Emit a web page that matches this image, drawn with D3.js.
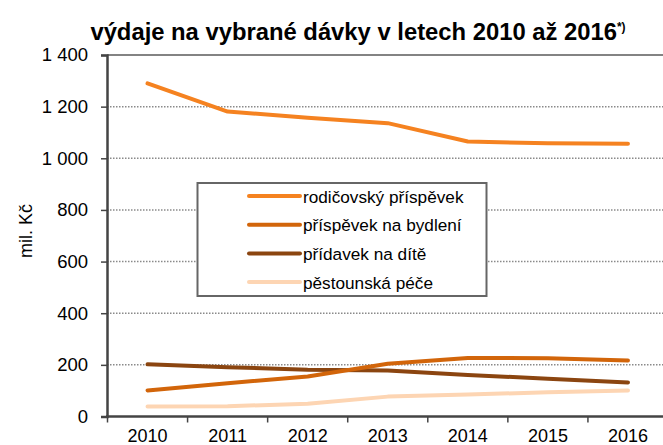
<!DOCTYPE html>
<html><head><meta charset="utf-8">
<script src="https://cdn.jsdelivr.net/npm/d3@7"></script>
<style>body{margin:0;background:#fff;} svg{display:block;font-family:"Liberation Sans",Arial,sans-serif;}</style>
</head><body>
<svg id="c" width="663" height="445"></svg>
<script>
const years = ["2010","2011","2012","2013","2014","2015","2016"];
const rodicovsky = [1290, 1181, 1157, 1136, 1065, 1058, 1056];
const bydleni = [101, 129, 155, 204, 227, 226, 217];
const pridavek = [202, 191, 181, 178, 161, 146, 132];
const pestounska = [39, 40, 49, 77, 85, 94, 101];
const seriesNames = ["rodičovský příspěvek","příspěvek na bydlení","přídavek na dítě","pěstounská péče"];
const seriesColors = ["#F58220","#D2650A","#8B4510","#FDD5B3"];
const yTicks = [0,200,400,600,800,1000,1200,1400];
const yTickLabels = ["0","200","400","600","800","1 000","1 200","1 400"];

const svg = d3.select("#c");
const x = d3.scaleBand().domain(years).range([107.5, 668]);
const y = d3.scaleLinear().domain([0,1400]).range([416.5, 55]);

// gridlines
svg.append("g").selectAll("line").data(yTicks.filter(d=>d>0 && d<1400)).join("line")
  .attr("x1",107).attr("x2",663).attr("y1",d=>y(d)).attr("y2",d=>y(d))
  .attr("stroke","#8a8a8a").attr("stroke-width",1.5).attr("stroke-dasharray","1.5,1.5");
// top border
svg.append("line").attr("x1",107).attr("x2",663).attr("y1",y(1400)).attr("y2",y(1400))
  .attr("stroke","#5a5a5a").attr("stroke-width",1.5);

// y axis
const yAxis = d3.axisLeft(y).tickValues(yTicks).tickFormat((d,i)=>yTickLabels[i]).tickSize(6).tickPadding(13);
const gy = svg.append("g").attr("transform","translate(107,0)").call(yAxis);
gy.select(".domain").attr("stroke","#444").attr("stroke-width",2.5);
gy.selectAll(".tick line").attr("stroke","#444").attr("stroke-width",1.5);
gy.selectAll(".tick text").attr("font-size",18.5).attr("fill","#000").attr("font-family","Liberation Sans, Arial, sans-serif");

// x axis
const xAxis = d3.axisBottom(x).tickSize(0).tickPadding(13);
const gx = svg.append("g").attr("transform","translate(0,"+y(0)+")").call(xAxis);
gx.select(".domain").remove();
gx.selectAll(".tick text").attr("font-size",18).attr("fill","#000").attr("font-family","Liberation Sans, Arial, sans-serif");
svg.append("line").attr("x1",106).attr("x2",663).attr("y1",y(0)).attr("y2",y(0))
  .attr("stroke","#444").attr("stroke-width",2.5);
svg.append("g").selectAll("line").data(years).join("line")
  .attr("x1",d=>x(d)).attr("x2",d=>x(d)).attr("y1",y(0)).attr("y2",y(0)+6)
  .attr("stroke","#444").attr("stroke-width",1.5);

// lines
const allSeries = [rodicovsky, bydleni, pridavek, pestounska];
const line = d3.line().x((d,i)=>x(years[i])+x.bandwidth()/2).y(d=>y(d));
[3,2,1,0].forEach(k=>{
  svg.append("path").attr("d",line(allSeries[k])).attr("fill","none")
    .attr("stroke",seriesColors[k]).attr("stroke-width",4)
    .attr("stroke-linecap","round").attr("stroke-linejoin","round");
});

// legend
const lg = svg.append("g");
lg.append("rect").attr("x",197.5).attr("y",183).attr("width",289).attr("height",113)
  .attr("fill","#fff").attr("stroke","#666").attr("stroke-width",2);
seriesNames.forEach((n,i)=>{
  const yy = 196 + i*28.7;
  lg.append("line").attr("x1",249).attr("x2",300).attr("y1",yy).attr("y2",yy)
    .attr("stroke",seriesColors[i]).attr("stroke-width",4).attr("stroke-linecap","round");
  lg.append("text").attr("x",303).attr("y",yy+6.5).attr("font-size",17.2)
    .attr("fill","#000").text(n);
});

// title
const t = svg.append("text").attr("x",358).attr("y",40).attr("text-anchor","middle")
  .attr("font-size",23.8).attr("font-weight","bold").attr("fill","#000");
t.append("tspan").text("výdaje na vybrané dávky v letech 2010 až 2016");
t.append("tspan").attr("font-size",12).attr("dy",-9).text("*)");

// y title
svg.append("text").attr("transform","translate(32,231) rotate(-90)").attr("text-anchor","middle")
  .attr("font-size",18).attr("fill","#000").text("mil. Kč");
</script>
</body></html>
